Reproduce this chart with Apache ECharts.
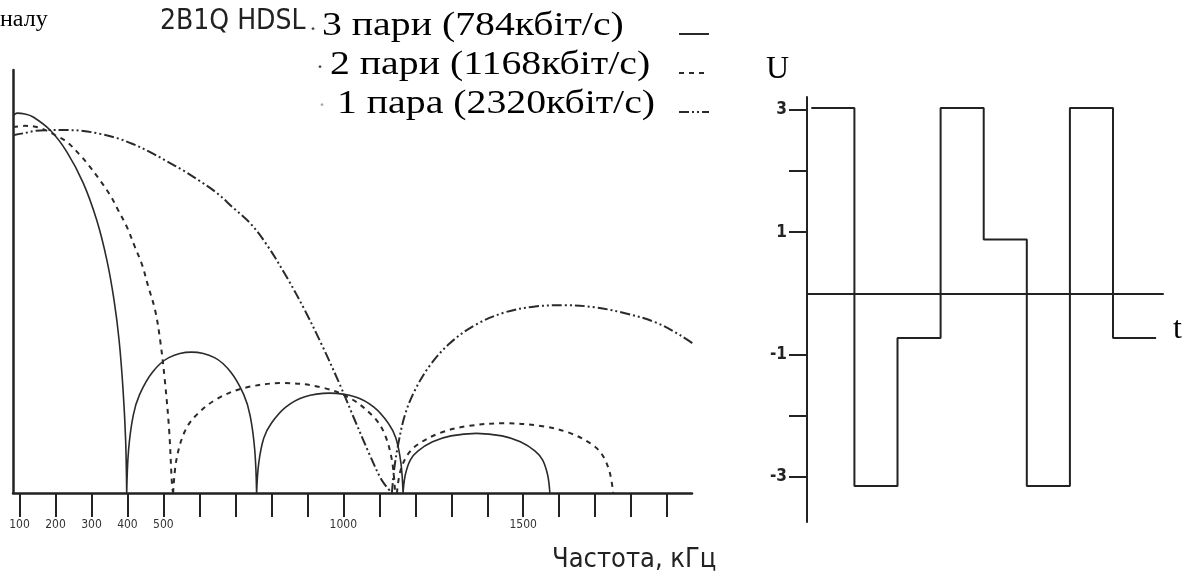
<!DOCTYPE html>
<html><head><meta charset="utf-8">
<script src="https://cdn.jsdelivr.net/npm/echarts@6.0.0/dist/echarts.min.js"></script>
<style>html,body{margin:0;padding:0;background:#fff}#c{width:1204px;height:584px}</style>
</head><body><div id="c"></div>
<script>
// ---- Left chart: spectra of 2B1Q HDSL (frequency in kHz, relative level) ----
const seriesNames = ['3 пари (784кбіт/с)', '2 пари (1168кбіт/с)', '1 пара (2320кбіт/с)'];
const freqTicks = [100,200,300,400,500,600,700,800,900,1000,1100,1200,1300,1400,1500,1600,1700,1800,1900];
const freqLabels = [100,200,300,400,500,1000,1500];

// '-' separates the lobes (each lobe ends at a spectral null)
const pairs3 = [
  [82,89.1],[93,89.8],[115,89.6],[138,88.9],[185,85.8],[232,80.6],[277,73.3],[315,64.4],[343,55.0],[363,45.5],[377,36.0],[388,24.2],[395,12.5],[398,0],[398,'-'],
  [398,0],[403,10.0],[416,18.3],[434,23.3],[470,28.6],[515,32.0],[578,33.3],[642,32.0],[687,28.6],[723,23.3],[741,18.3],[754,10.0],[759,0],[759,'-'],
  [759,0],[765,7.1],[779,13.0],[800,16.5],[840,20.3],[891,22.7],[962,23.6],[1034,22.7],[1085,20.3],[1125,16.5],[1146,13.0],[1160,7.1],[1166,0],[1166,'-'],
  [1166,0],[1172,4.2],[1186,7.8],[1207,9.9],[1248,12.1],[1299,13.5],[1370,14.1],[1441,13.5],[1492,12.1],[1533,9.9],[1554,7.8],[1568,4.2],[1574,0]
];
const pairs2 = [
  [82,86.5],[115,86.8],[157,86.3],[199,84.6],[232,83.0],[268,79.9],[296,77.1],[324,73.9],[352,70.4],[374,66.9],[399,62.8],[421,58.1],[441,53.9],[457,49.1],[477,43.2],[491,36.1],[504,26.6],[516,14.8],[524,1.8],[527,0],[527,'-'],
  [527,0],[536,7.8],[558,14.3],[589,18.2],[650,22.3],[728,24.9],[835,26.0],[943,24.9],[1021,22.3],[1082,18.2],[1113,14.3],[1135,7.8],[1144,0],[1144,'-'],
  [1149,0],[1158,5.0],[1179,9.1],[1209,11.6],[1269,14.2],[1344,15.8],[1449,16.5],[1554,15.8],[1629,14.2],[1689,11.6],[1719,9.1],[1740,5.0],[1750,0]
];
const pairs1 = [
  [82,84.6],[115,85.1],[143,85.6],[185,85.8],[227,85.8],[277,85.6],[324,84.9],[371,83.9],[415,82.5],[463,80.6],[510,78.4],[554,76.3],[602,73.7],[649,70.9],[693,67.5],[741,63.8],[788,58.6],[843,51.0],[893,43.2],[941,34.9],[991,25.5],[1032,17.2],[1074,8.9],[1107,3.0],[1135,0],[1135,'-'],
  [1135,0],[1141,5.4],[1152,11.3],[1171,18.4],[1199,24.3],[1241,30.2],[1296,35.4],[1366,39.7],[1449,42.7],[1533,44.1],[1616,44.4],[1699,43.9],[1783,42.5],[1866,40.4],[1936,37.3],[2005,33.3]
];

// ---- Right chart: 2B1Q line signal ----
const timeSteps = [0,1,2,3,4,5,6,7,8];
const levels = [3.03,-3.15,-0.73,3.03,0.88,-3.15,3.03,-0.73,-0.73];
const uTicks = [-3,-2,-1,1,2,3];
const uLabels = [-3,-1,1,3];

const chart = echarts.init(document.getElementById('c'), null, {renderer:'canvas'});
const ink = '#2a2a2a';
const styles = [
  {color: ink, width: 1.6, type: 'solid'},
  {color: ink, width: 2, type: [5,5]},
  {color: ink, width: 2, type: [10,3,2,3,2,3]}
];
const spectra = [pairs3, pairs2, pairs1];
const legendRowY = [26, 65, 104];
const legendTextX = [322, 330, 337];

const option = {
  animation: false,
  backgroundColor: '#fff',
  grid: [
    {left: 13, right: 512, top: 70, bottom: 91},
    {left: 807, right: 41, top: 97, bottom: 62}
  ],
  xAxis: [
    {type:'value', gridIndex:0, min:82, max:1969,
     axisLine:{onZero:false, lineStyle:{color:'#222', width:2.5}},
     axisTick:{customValues:freqTicks, length:24, inside:false, lineStyle:{color:'#222', width:2}},
     axisLabel:{customValues:freqLabels, margin:26, formatter:v=>String(v), color:'#333',
                fontFamily:"'Liberation Sans Narrow','DejaVu Sans Condensed',sans-serif", fontSize:12},
     splitLine:{show:false}},
    {type:'value', gridIndex:1, min:-0.1, max:8.16,
     axisLine:{onZero:true, lineStyle:{color:'#222', width:2}},
     axisTick:{show:false}, axisLabel:{show:false}, splitLine:{show:false}}
  ],
  yAxis: [
    {type:'value', gridIndex:0, min:0, max:100,
     axisLine:{show:true, onZero:false, lineStyle:{color:'#222', width:2.5}},
     axisTick:{show:false}, axisLabel:{show:false}, splitLine:{show:false}},
    {type:'value', gridIndex:1, min:-3.74, max:3.21,
     axisLine:{show:true, onZero:false, lineStyle:{color:'#222', width:2}},
     axisTick:{show:true, customValues:uTicks, length:18, lineStyle:{color:'#222', width:2}},
     axisLabel:{customValues:uLabels, margin:20, color:'#222', fontWeight:'bold',
                fontFamily:"'DejaVu Sans Condensed',sans-serif", fontSize:17},
     splitLine:{show:false}}
  ],
  // legend samples (line icons); the labels are drawn as stretched text below
  legend: seriesNames.map((n,i)=>({
    data:[n], left:673, top:legendRowY[i] - 4, orient:'horizontal',
    selectedMode:false, itemWidth:30, itemHeight:14,
    formatter: () => '',
    itemStyle:{opacity:0, color:'rgba(0,0,0,0)', borderWidth:0},
    textStyle:{fontSize:1}
  })),
  graphic: [
    {type:'text', x:0, y:8, style:{text:'налу', fontFamily:"'Liberation Serif',serif", fontSize:24, fill:'#000'}},
    {type:'text', x:160, y:8, style:{text:'2B1Q HDSL', fontFamily:"'DejaVu Sans Condensed',sans-serif", fontSize:28, fill:'#222'}},
    {type:'text', x:309, y:18, style:{text:'·', fontFamily:"'Liberation Serif',serif", fontSize:24, fill:'#444'}},
    {type:'text', x:316, y:56, style:{text:'·', fontFamily:"'Liberation Serif',serif", fontSize:24, fill:'#444'}},
    {type:'text', x:318, y:94, style:{text:'·', fontFamily:"'Liberation Serif',serif", fontSize:24, fill:'#aaa'}},
    ...seriesNames.map((n,i)=>({type:'text', x:legendTextX[i], y:legendRowY[i], scaleX:1.17,
      style:{text:n, fontFamily:"'Liberation Serif','DejaVu Serif',serif", fontSize:34, fill:'#000', verticalAlign:'middle'}})),
    {type:'text', x:552, y:546, style:{text:'Частота, кГц', fontFamily:"'DejaVu Sans Condensed',sans-serif", fontSize:27, fill:'#222'}},
    {type:'text', x:766, y:54, style:{text:'U', fontFamily:"'Liberation Serif',serif", fontSize:32, fill:'#000'}},
    {type:'text', x:1173, y:314, style:{text:'t', fontFamily:"'Liberation Serif',serif", fontSize:32, fill:'#000'}}
  ],
  series: [
    ...spectra.map((d,i)=>({
      name: seriesNames[i], type:'line', xAxisIndex:0, yAxisIndex:0,
      data: d, symbol:'none', smooth:0.35, connectNulls:false, clip:false,
      lineStyle: styles[i], itemStyle:{color: ink}
    })),
    {name:'U(t)', type:'line', xAxisIndex:1, yAxisIndex:1, step:'end', symbol:'none',
     data: timeSteps.map((t,i)=>[t, levels[i]]),
     lineStyle:{color:'#222', width:2}, itemStyle:{color:'#222'}}
  ]
};
chart.setOption(option);
</script></body></html>
